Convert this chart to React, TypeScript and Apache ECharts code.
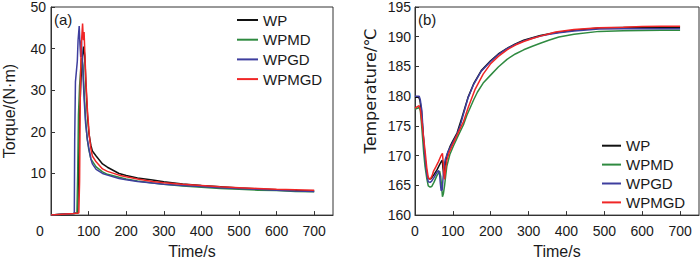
import React, { useEffect, useRef } from "react";
import * as echarts from "echarts";

const seriesNames = ["WP", "WPMD", "WPGD", "WPMGD"];
const seriesColors = ["#111111", "#2f8a40", "#3e3e9e", "#f02626"];

const timeTicks = [0, 100, 200, 300, 400, 500, 600, 700];
const torqueTicks = [10, 20, 30, 40, 50];
const tempTicks = [160, 165, 170, 175, 180, 185, 190, 195];

// ---- Torque (a) ----
const wpTorqueT = [0, 30, 60, 71, 73, 76, 80, 84, 87, 90, 93, 97, 101, 106, 110, 120, 137, 150, 181, 200, 230, 270, 300, 350, 400, 450, 500, 550, 600, 650, 700];
const wpTorqueV = [0, 0.2, 0.4, 0.5, 10, 24, 33, 38, 40.5, 38, 31, 24, 19.5, 16.8, 15.4, 14.2, 12.3, 11.5, 10.0, 9.5, 8.9, 8.45, 8.0, 7.5, 7.1, 6.8, 6.5, 6.3, 6.1, 5.9, 5.8];

const wpmdTorqueT = [0, 30, 60, 69, 71, 73, 76, 79, 82, 85, 88, 92, 96, 100, 106, 120, 137, 150, 181, 200, 230, 270, 300, 350, 400, 450, 500, 550, 600, 650, 700];
const wpmdTorqueV = [0, 0.2, 0.4, 0.5, 10, 24, 31, 35, 37.8, 36, 30, 23, 18.5, 16, 13.5, 11.6, 10.4, 9.8, 9.1, 8.7, 8.2, 7.7, 7.4, 7.0, 6.7, 6.4, 6.2, 6.0, 5.9, 5.7, 5.6];

const wpgdTorqueT = [0, 30, 60, 62, 63, 65, 68, 70, 72, 75, 77, 79, 81, 84, 88, 92, 97, 102, 106, 110, 120, 137, 150, 181, 200, 230, 270, 300, 350, 400, 450, 500, 550, 600, 650, 700];
const wpgdTorqueV = [0, 0.2, 0.4, 0.5, 18, 32, 35, 37, 42, 45.4, 41, 38, 42, 36, 28, 22, 18, 15.4, 13.5, 12.3, 11, 10, 9.6, 8.8, 8.5, 8.1, 7.7, 7.4, 7.1, 6.9, 6.6, 6.4, 6.2, 6.0, 5.8, 5.7];

const wpmgdTorqueT = [0, 30, 60, 74, 76, 78, 80, 82, 84, 86, 88, 90, 93, 97, 102, 106, 110, 120, 137, 150, 181, 200, 230, 270, 300, 350, 400, 450, 500, 550, 600, 650, 700];
const wpmgdTorqueV = [0, 0.2, 0.4, 0.5, 8, 30, 40, 43, 46, 42, 44, 39, 32, 25, 19, 16, 14.2, 12.8, 11.1, 10.5, 9.6, 9.2, 8.7, 8.1, 7.8, 7.4, 7.1, 6.8, 6.6, 6.4, 6.2, 6.1, 6.0];

// ---- Temperature (b) ----
const wpTempT = [0, 10, 13, 17, 21, 25, 29, 33, 37, 42, 50, 58, 65, 70, 72, 74, 76, 80, 86, 93, 100, 111, 124, 140, 155, 175, 199, 220, 243, 265, 287, 310, 331, 355, 380, 420, 486, 550, 600, 650, 700];
const wpTempV = [179.8, 179.8, 179.3, 177.5, 174, 170.5, 168, 166.5, 166.1, 166.1, 166.8, 167.6, 168.5, 169.1, 169.2, 167.8, 166.6, 168.6, 170.4, 171.6, 172.5, 173.8, 176.4, 179.8, 182.1, 184.3, 185.9, 187.1, 188.05, 188.8, 189.4, 189.85, 190.2, 190.5, 190.75, 191.1, 191.45, 191.55, 191.6, 191.6, 191.6];

const wpmdTempT = [0, 11, 14, 17, 20, 23, 26.5, 31, 35, 40, 44, 50, 57.5, 65, 68, 70, 72.5, 75, 78, 81, 84, 92, 102, 115, 128, 137, 155, 165, 180, 199, 220, 243, 265, 287, 310, 331, 355, 380, 420, 486, 550, 600, 650, 700];
const wpmdTempV = [177.8, 178.1, 177.6, 175.5, 173, 170.5, 168.2, 166.2, 164.9, 164.7, 164.8, 165.5, 166.6, 167.4, 166.5, 165, 163.1, 163.6, 164.9, 166.6, 168.2, 170.2, 171.7, 173.5, 175.2, 176.8, 179.4, 180.7, 182.2, 183.5, 184.9, 186.2, 187.1, 187.8, 188.4, 188.9, 189.45, 189.95, 190.4, 190.9, 191.0, 191.05, 191.1, 191.1];

const wpgdTempT = [0, 11, 14, 18, 22, 26, 31, 35, 40, 44, 50, 57, 62, 65, 67, 69, 72, 74, 77, 80, 86, 93, 102, 111, 120, 128, 140, 155, 175, 199, 220, 243, 265, 287, 310, 331, 355, 380, 420, 486, 550, 600, 650, 700];
const wpgdTempV = [180, 180, 179.4, 177.6, 173.5, 170, 167, 165.6, 165.5, 165.7, 166.3, 167.1, 167.5, 166.8, 165.3, 164.1, 164.3, 166.2, 168.3, 169.4, 170.5, 171.4, 172.5, 173.6, 175.2, 177, 179.7, 182, 184.2, 185.8, 187, 188, 188.7, 189.3, 189.75, 190.1, 190.4, 190.65, 190.95, 191.3, 191.35, 191.35, 191.35, 191.35];

const wpmgdTempT = [0, 5, 11, 14, 17, 20, 23, 26.5, 31, 35, 40, 45, 49, 55, 62, 68, 72.5, 75, 78, 81, 84, 90, 102, 115, 128, 140, 159, 180, 199, 220, 243, 265, 287, 310, 331, 355, 371, 420, 486, 550, 600, 650, 700];
const wpmgdTempV = [178, 178.2, 178.4, 177.8, 176.3, 174.6, 172.8, 170.9, 168, 166.3, 166, 166.6, 167.4, 168.1, 169, 169.9, 170.4, 168.4, 166, 167.8, 169.2, 170.5, 172.2, 174, 175.7, 178, 181.2, 183.7, 185.4, 186.7, 187.8, 188.6, 189.2, 189.7, 190.1, 190.5, 190.8, 191.2, 191.5, 191.6, 191.7, 191.75, 191.75];

const torqueT = [wpTorqueT, wpmdTorqueT, wpgdTorqueT, wpmgdTorqueT];
const torqueV = [wpTorqueV, wpmdTorqueV, wpgdTorqueV, wpmgdTorqueV];
const tempT = [wpTempT, wpmdTempT, wpgdTempT, wpmgdTempT];
const tempV = [wpTempV, wpmdTempV, wpgdTempV, wpmgdTempV];

const FONT = "'Liberation Sans', Arial, Helvetica, sans-serif";
const AXIS_COLOR = "#333";
const TEXT_COLOR = "#1a1a1a";

const zip = (t: number[], v: number[]) => t.map((x, i) => [x, v[i]]);

function axisCommon() {
  return {
    axisLine: { show: true, onZero: false, lineStyle: { color: AXIS_COLOR, width: 1 } },
    axisTick: { show: true, inside: true, length: 4, lineStyle: { color: AXIS_COLOR, width: 1 } },
    splitLine: { show: false },
  };
}

export default function App() {
  const ref = useRef<HTMLDivElement>(null);

  useEffect(() => {
    if (!ref.current) return;
    const chart = echarts.init(ref.current, undefined, { renderer: "svg" });

    const series: any[] = [];
    seriesNames.forEach((name, i) => {
      series.push({
        name,
        type: "line",
        xAxisIndex: 0,
        yAxisIndex: 0,
        data: zip(torqueT[i], torqueV[i]),
        showSymbol: false,
        symbol: "none",
        lineStyle: { color: seriesColors[i], width: 1.5 },
        itemStyle: { color: seriesColors[i] },
      });
    });
    seriesNames.forEach((name, i) => {
      series.push({
        name,
        type: "line",
        xAxisIndex: 1,
        yAxisIndex: 1,
        data: zip(tempT[i], tempV[i]),
        showSymbol: false,
        symbol: "none",
        lineStyle: { color: seriesColors[i], width: 1.5 },
        itemStyle: { color: seriesColors[i] },
      });
    });

    const legendBase = {
      orient: "vertical",
      icon: "rect",
      itemHeight: 2,
      padding: 0,
      selectedMode: false,
      textStyle: { fontSize: 15, lineHeight: 16, color: TEXT_COLOR, fontFamily: FONT },
      data: seriesNames,
    };

    const option: any = {
      animation: false,
      textStyle: { fontFamily: FONT },
      grid: [
        { left: 50, top: 6, width: 283, height: 217, show: true, borderColor: AXIS_COLOR, borderWidth: 1, backgroundColor: "transparent" },
        { left: 415, top: 6, width: 284, height: 218, show: true, borderColor: AXIS_COLOR, borderWidth: 1, backgroundColor: "transparent" },
      ],
      legend: [
        { ...legendBase, left: 237, top: 12, itemWidth: 21, itemGap: 3.7 },
        { ...legendBase, left: 602, top: 137.7, itemWidth: 19, itemGap: 2.9 },
      ],
      xAxis: [
        {
          gridIndex: 0,
          type: "value",
          min: 0,
          max: 750,
          interval: 100,
          ...axisCommon(),
          axisLabel: {
            margin: 9,
            fontSize: 14,
            color: TEXT_COLOR,
            fontFamily: FONT,
            showMaxLabel: false,
            formatter: (v: number) =>
              timeTicks.indexOf(v) < 0 ? "" : v === 0 ? "{z|0}" : String(v),
            rich: { z: { padding: [0, 22, 0, 0], fontSize: 14, color: TEXT_COLOR, fontFamily: FONT } },
          },
          name: "Time/s",
          nameLocation: "middle",
          nameGap: 26,
          nameTextStyle: { fontSize: 16, color: TEXT_COLOR, fontFamily: FONT },
        },
        {
          gridIndex: 1,
          type: "value",
          min: 0,
          max: 750,
          interval: 100,
          ...axisCommon(),
          axisLabel: {
            margin: 9,
            fontSize: 14,
            color: TEXT_COLOR,
            fontFamily: FONT,
            showMaxLabel: false,
            formatter: (v: number) => (timeTicks.indexOf(v) < 0 ? "" : String(v)),
          },
          name: "Time/s",
          nameLocation: "middle",
          nameGap: 26,
          nameTextStyle: { fontSize: 16, color: TEXT_COLOR, fontFamily: FONT },
        },
      ],
      yAxis: [
        {
          gridIndex: 0,
          type: "value",
          min: 0,
          max: 50,
          interval: 10,
          ...axisCommon(),
          axisLabel: {
            margin: 5,
            fontSize: 14,
            color: TEXT_COLOR,
            fontFamily: FONT,
            showMinLabel: false,
            formatter: (v: number) => (torqueTicks.indexOf(v) < 0 ? "" : String(v)),
          },
          name: "Torque/(N·m)",
          nameLocation: "middle",
          nameGap: 34,
          nameTextStyle: { fontSize: 16, color: TEXT_COLOR, fontFamily: FONT },
        },
        {
          gridIndex: 1,
          type: "value",
          min: 160,
          max: 195,
          interval: 5,
          ...axisCommon(),
          axisLabel: {
            margin: 4,
            fontSize: 14,
            color: TEXT_COLOR,
            fontFamily: FONT,
            formatter: (v: number) => (tempTicks.indexOf(v) < 0 ? "" : String(v)),
          },
          name: "Temperature/℃",
          nameLocation: "middle",
          nameGap: 37,
          nameTextStyle: {
            fontSize: 16,
            color: TEXT_COLOR,
            fontFamily: "'DejaVu Sans', 'Liberation Sans', sans-serif",
            padding: [0, 0, 0, 40],
          },
        },
      ],
      graphic: [
        { type: "text", left: 54, top: 12, z: 100, style: { text: "(a)", fontSize: 15, fill: TEXT_COLOR, fontFamily: FONT } },
        { type: "text", left: 418, top: 12, z: 100, style: { text: "(b)", fontSize: 15, fill: TEXT_COLOR, fontFamily: FONT } },
        { type: "rect", z: 100, shape: { x: 653, y: 220, width: 3, height: 7 }, style: { fill: "#ffffff" } },
      ],
      series,
    };

    chart.setOption(option);
    return () => chart.dispose();
  }, []);

  return (
    <div
      ref={ref}
      style={{ position: "absolute", left: 0, top: 0, width: 700, height: 264, background: "#fff" }}
    />
  );
}
